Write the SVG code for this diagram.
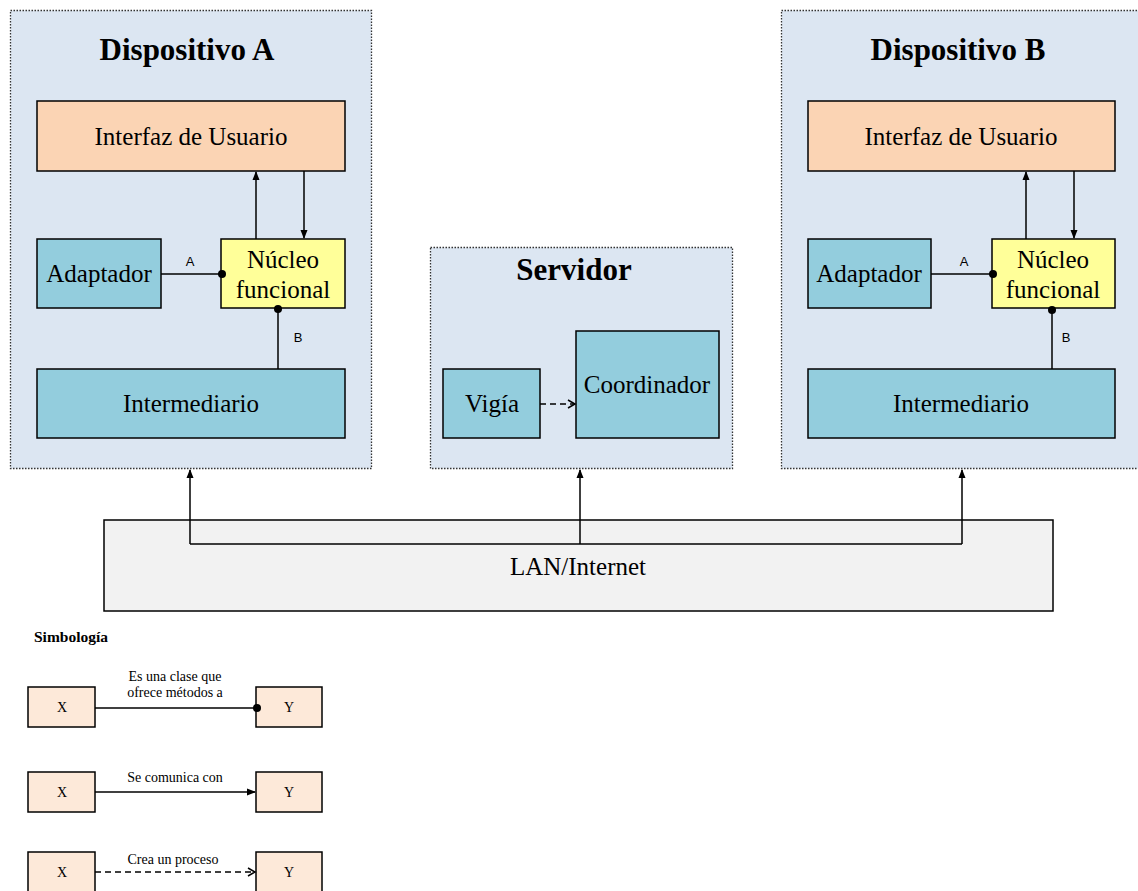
<svg xmlns="http://www.w3.org/2000/svg" width="1138" height="891" viewBox="0 0 1138 891">
  <defs>
    <marker id="arrow" markerWidth="10" markerHeight="10" refX="8" refY="5" orient="auto" markerUnits="userSpaceOnUse">
      <path d="M0,1.5 L9,5 L0,8.5 Z" fill="#000"/>
    </marker>
    <marker id="open" markerWidth="10" markerHeight="10" refX="8" refY="5" orient="auto" markerUnits="userSpaceOnUse">
      <path d="M1,1 L8,5 L1,9" fill="none" stroke="#000" stroke-width="1.5"/>
    </marker>
    <marker id="dot" markerWidth="10" markerHeight="10" refX="5" refY="5" markerUnits="userSpaceOnUse">
      <circle cx="5" cy="5" r="4" fill="#000"/>
    </marker>
  </defs>
  <style>
    .container { fill: #DCE6F2; stroke: #333; stroke-width: 1.3; stroke-dasharray: 1.5 1.5; }
    .box { stroke: #000; stroke-width: 1.5; }
    .ui { fill: #FBD4B4; }
    .blue { fill: #93CDDD; }
    .core { fill: #FFFF99; }
    .lan { fill: #F2F2F2; stroke: #000; stroke-width: 1.5; }
    .leg { fill: #FDE9D9; stroke: #000; stroke-width: 1.5; }
    .title { font-family: "Liberation Serif", serif; font-weight: bold; font-size: 31px; text-anchor: middle; fill: #000; }
    .label { font-family: "Liberation Serif", serif; font-size: 25px; text-anchor: middle; fill: #000; }
    .small { font-family: "Liberation Sans", sans-serif; font-size: 13px; text-anchor: middle; fill: #000; }
    .legtext { font-family: "Liberation Serif", serif; font-size: 14px; text-anchor: middle; fill: #000; }
    .line { stroke: #000; stroke-width: 1.5; fill: none; }
  </style>

  <!-- Device A -->
  <g id="dispositivo-a">
    <rect class="container" x="10.5" y="10.5" width="361" height="458"/>
    <text class="title" x="187" y="60">Dispositivo A</text>
  </g>
  <g id="interfaz-a">
    <rect class="box ui" x="37" y="101" width="308" height="70"/>
    <text class="label" x="191" y="145">Interfaz de Usuario</text>
  </g>
  <g id="adaptador-a">
    <rect class="box blue" x="37" y="239" width="124" height="69"/>
    <text class="label" x="99" y="282">Adaptador</text>
  </g>
  <g id="nucleo-a">
    <rect class="box core" x="221" y="239" width="124" height="69"/>
    <text class="label" x="283" y="268">Núcleo</text>
    <text class="label" x="283" y="298">funcional</text>
  </g>
  <g id="intermediario-a">
    <rect class="box blue" x="37" y="369" width="308" height="69"/>
    <text class="label" x="191" y="412">Intermediario</text>
  </g>

  <!-- Server -->
  <g id="servidor">
    <rect class="container" x="430.5" y="247.5" width="302" height="221"/>
    <text class="title" x="574" y="280">Servidor</text>
  </g>
  <g id="vigia">
    <rect class="box blue" x="443" y="369" width="97" height="69"/>
    <text class="label" x="492" y="412">Vigía</text>
  </g>
  <g id="coordinador">
    <rect class="box blue" x="576" y="331" width="143" height="107"/>
    <text class="label" x="647" y="393">Coordinador</text>
  </g>

  <!-- Device B -->
  <g id="dispositivo-b">
    <rect class="container" x="781.5" y="10.5" width="361" height="458"/>
    <text class="title" x="958" y="60">Dispositivo B</text>
  </g>
  <g id="interfaz-b">
    <rect class="box ui" x="808" y="101" width="307" height="70"/>
    <text class="label" x="961" y="145">Interfaz de Usuario</text>
  </g>
  <g id="adaptador-b">
    <rect class="box blue" x="808" y="239" width="123" height="69"/>
    <text class="label" x="869" y="282">Adaptador</text>
  </g>
  <g id="nucleo-b">
    <rect class="box core" x="992" y="239" width="123" height="69"/>
    <text class="label" x="1053" y="268">Núcleo</text>
    <text class="label" x="1053" y="298">funcional</text>
  </g>
  <g id="intermediario-b">
    <rect class="box blue" x="808" y="369" width="307" height="69"/>
    <text class="label" x="961" y="412">Intermediario</text>
  </g>

  <!-- Network -->
  <g id="lan">
    <rect class="lan" x="104" y="520" width="949" height="91"/>
    <text class="label" x="578" y="575">LAN/Internet</text>
  </g>

  <!-- Connectors -->
  <g id="connectors">
    <!-- Device A -->
    <line class="line" x1="256" y1="239" x2="256" y2="172" marker-end="url(#arrow)"/>
    <line class="line" x1="304" y1="171" x2="304" y2="238" marker-end="url(#arrow)"/>
    <line class="line" x1="161" y1="274" x2="222" y2="274" marker-end="url(#dot)"/>
    <text class="small" x="190" y="266">A</text>
    <line class="line" x1="278" y1="369" x2="278" y2="309" marker-end="url(#dot)"/>
    <text class="small" x="298" y="342">B</text>
    <!-- Device B -->
    <line class="line" x1="1026" y1="239" x2="1026" y2="172" marker-end="url(#arrow)"/>
    <line class="line" x1="1074" y1="171" x2="1074" y2="238" marker-end="url(#arrow)"/>
    <line class="line" x1="931" y1="274" x2="993" y2="274" marker-end="url(#dot)"/>
    <text class="small" x="964" y="266">A</text>
    <line class="line" x1="1052" y1="369" x2="1052" y2="310" marker-end="url(#dot)"/>
    <text class="small" x="1066" y="342">B</text>
    <!-- Server -->
    <line class="line" x1="540" y1="404" x2="575" y2="404" stroke-dasharray="6 4" marker-end="url(#open)"/>
    <!-- Network links -->
    <polyline class="line" points="190,544 962,544"/>
    <line class="line" x1="190" y1="544" x2="190" y2="470" marker-end="url(#arrow)"/>
    <line class="line" x1="580" y1="544" x2="580" y2="470" stroke-width="2" marker-end="url(#arrow)"/>
    <line class="line" x1="962" y1="544" x2="962" y2="470" marker-end="url(#arrow)"/>
  </g>

  <!-- Legend -->
  <g id="simbologia">
    <text x="34" y="642" style="font-family:'Liberation Serif',serif;font-weight:bold;font-size:15.5px">Simbología</text>
  </g>
  <g id="leyenda-1">
    <rect class="leg" x="28" y="687" width="67" height="40"/>
    <text class="legtext" x="62" y="712">X</text>
    <rect class="leg" x="256" y="687" width="66" height="40"/>
    <text class="legtext" x="289" y="712">Y</text>
    <line class="line" x1="95" y1="708" x2="257" y2="708" marker-end="url(#dot)"/>
    <text class="legtext" x="175" y="681">Es una clase que</text>
    <text class="legtext" x="175" y="697">ofrece métodos a</text>
  </g>
  <g id="leyenda-2">
    <rect class="leg" x="28" y="772" width="67" height="40"/>
    <text class="legtext" x="62" y="797">X</text>
    <rect class="leg" x="256" y="772" width="66" height="40"/>
    <text class="legtext" x="289" y="797">Y</text>
    <line class="line" x1="95" y1="792" x2="255" y2="792" marker-end="url(#arrow)"/>
    <text class="legtext" x="175" y="782">Se comunica con</text>
  </g>
  <g id="leyenda-3">
    <rect class="leg" x="28" y="852" width="67" height="40"/>
    <text class="legtext" x="62" y="877">X</text>
    <rect class="leg" x="256" y="852" width="66" height="40"/>
    <text class="legtext" x="289" y="877">Y</text>
    <line class="line" x1="95" y1="872" x2="255" y2="872" stroke-dasharray="6 4" marker-end="url(#open)"/>
    <text class="legtext" x="173" y="864">Crea un proceso</text>
  </g>
</svg>
